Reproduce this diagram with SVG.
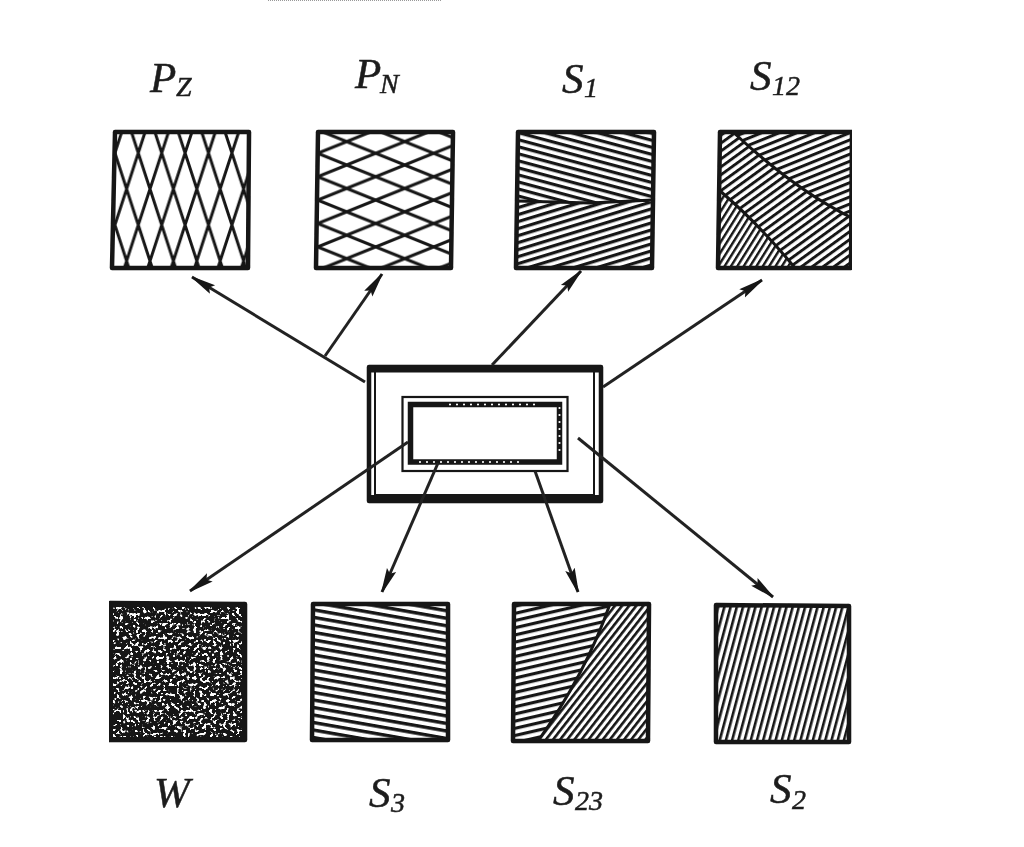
<svg xmlns="http://www.w3.org/2000/svg" width="1024" height="847" viewBox="0 0 1024 847">
<style>
.box{stroke:#161616;stroke-width:4.500;stroke-linejoin:round}
.frame{fill:none;stroke:#161616;stroke-width:4.500;stroke-linejoin:round}
.div{fill:none;stroke:#161616;stroke-width:3}
.lab{font-family:"Liberation Serif","Times New Roman",serif;font-style:italic;font-size:43px;fill:#1c1c1c;stroke:#1c1c1c;stroke-width:.5}
.sub{font-size:28px}
.arrow{fill:none;stroke:#222;stroke-width:3;marker-end:url(#head)}
</style>
<defs>
<marker id="head" markerUnits="userSpaceOnUse" markerWidth="28" markerHeight="16" refX="24" refY="8" orient="auto"><path d="M0,3 L20,6.600 L24,7.400 L24,8.600 L20,9.400 L0,13 L4,8 Z" fill="#161616"/></marker>
<filter id="soft" x="0" y="0" width="1" height="1"><feGaussianBlur stdDeviation="0.5"/></filter>
<filter id="speck" x="0" y="0" width="1" height="1" color-interpolation-filters="sRGB"><feTurbulence type="fractalNoise" baseFrequency="0.3" numOctaves="2" seed="11"/><feColorMatrix values="0 0 0 0 1 0 0 0 0 1 0 0 0 0 1 1 0 0 0 0"/><feComponentTransfer><feFuncA type="linear" slope="12" intercept="-6.700"/></feComponentTransfer></filter>
<pattern id="pz" patternUnits="userSpaceOnUse" x="138.3" y="153" width="23.4" height="72"><rect width="23.4" height="72" fill="#fff"/><path d="M-11.7,-36L35.1,108M35.1,-36L-11.7,108M-11.7,36L11.7,108M11.7,-36L35.1,36M11.7,-36L-11.7,36M35.1,36L11.7,108" fill="none" stroke="#161616" stroke-width="3"/></pattern>
<pattern id="pn" patternUnits="userSpaceOnUse" x="346.7" y="165" width="58" height="23.4"><rect width="58" height="23.4" fill="#fff"/><path d="M-29,-11.7L87,35.1M87,-11.7L-29,35.1M-29,11.7L29,35.1M29,-11.7L87,11.7M29,-11.7L-29,11.7M87,11.7L29,35.1" fill="none" stroke="#161616" stroke-width="3"/></pattern>
<pattern id="s1a" patternUnits="userSpaceOnUse" width="20" height="6.8" patternTransform="translate(518 138) rotate(15)"><rect width="20" height="6.8" fill="#fff"/><rect width="20" height="3.2" fill="#161616"/></pattern>
<pattern id="s1b" patternUnits="userSpaceOnUse" width="20" height="6.7" patternTransform="translate(518 206) rotate(-17)"><rect width="20" height="6.7" fill="#fff"/><rect width="20" height="3.2" fill="#161616"/></pattern>
<pattern id="s12a" patternUnits="userSpaceOnUse" width="20" height="6.6" patternTransform="translate(740 140) rotate(-22)"><rect width="20" height="6.6" fill="#fff"/><rect width="20" height="3" fill="#161616"/></pattern>
<pattern id="s12b" patternUnits="userSpaceOnUse" width="20" height="6.4" patternTransform="translate(720 150) rotate(-36)"><rect width="20" height="6.4" fill="#fff"/><rect width="20" height="2.9" fill="#161616"/></pattern>
<pattern id="s12c" patternUnits="userSpaceOnUse" width="20" height="5.4" patternTransform="translate(720 200) rotate(-58)"><rect width="20" height="5.4" fill="#fff"/><rect width="20" height="2.4" fill="#161616"/></pattern>
<pattern id="s3" patternUnits="userSpaceOnUse" width="20" height="7.4" patternTransform="translate(313 608) rotate(10)"><rect width="20" height="7.4" fill="#fff"/><rect width="20" height="3.4" fill="#161616"/></pattern>
<pattern id="s23a" patternUnits="userSpaceOnUse" width="20" height="7" patternTransform="translate(514 612) rotate(-13)"><rect width="20" height="7" fill="#fff"/><rect width="20" height="3.2" fill="#161616"/></pattern>
<pattern id="s23b" patternUnits="userSpaceOnUse" width="20" height="5.6" patternTransform="translate(610 610) rotate(-52)"><rect width="20" height="5.6" fill="#fff"/><rect width="20" height="2.6" fill="#161616"/></pattern>
<pattern id="s2" patternUnits="userSpaceOnUse" width="20" height="6" patternTransform="translate(716 610) rotate(-75)"><rect width="20" height="6" fill="#fff"/><rect width="20" height="2.600" fill="#161616"/></pattern>
</defs>
<rect width="1024" height="847" fill="#fff"/>
<line x1="268" y1="0.5" x2="442" y2="0.5" stroke="#999" stroke-width="1" stroke-dasharray="1 1"/>
<g filter="url(#soft)">
<g id="center">
<rect x="369" y="367" width="232" height="134" class="frame"/>
<path d="M369,369H601" fill="none" stroke="#161616" stroke-width="7"/>
<rect x="375" y="371" width="219" height="124" fill="none" stroke="#161616" stroke-width="2"/>
<path d="M369,497H601" fill="none" stroke="#161616" stroke-width="4"/>
<rect x="402.500" y="397" width="165" height="74" fill="#fff" stroke="#161616" stroke-width="2.2"/>
<rect x="410.500" y="404.500" width="149" height="57.500" fill="#fff" stroke="#161616" stroke-width="5.500"/>
<path d="M450,404.500H540M559.500,408V452M420,462H520" fill="none" stroke="#fff" stroke-width="2.200" stroke-linecap="round" stroke-dasharray="0 7"/>
</g>
<g id="connectors">
<path class="arrow" d="M365,382L192,277"/>
<path class="arrow" d="M325,356L382,274"/>
<path class="arrow" d="M492,365L581,271"/>
<path class="arrow" d="M603,387L762,280"/>
<path class="arrow" d="M408,442L190,591"/>
<path class="arrow" d="M438,463L382,592"/>
<path class="arrow" d="M535,471L578,592"/>
<path class="arrow" d="M578,438L773,597"/>
</g>
<g id="Pz"><path class="box" fill="url(#pz)" d="M115,132L249,132L248,268L112,268Z"/><text class="lab" x="150" y="92">P<tspan class="sub" x="176" y="96">Z</tspan></text></g>
<g id="Pn"><path class="box" fill="url(#pn)" d="M318,132L453,132L451,268L316,268Z"/><text class="lab" x="355" y="88">P<tspan class="sub" x="380" y="93">N</tspan></text></g>
<g id="S1"><path fill="url(#s1a)" d="M518,132L654,132L653,202L517,202Z"/><path fill="url(#s1b)" d="M517,202L653,202L652,268L516,268Z"/><path d="M518,201L590,203L653,200" class="div" stroke-width="4"/><path class="frame" d="M518,132L654,132L652,268L516,268Z"/><text class="lab" x="562" y="93">S<tspan class="sub" x="584" y="97">1</tspan></text></g>
<g id="S12"><path fill="url(#s12a)" d="M733,132L852,132L852,218Q795,190 733,132Z"/><path fill="url(#s12b)" d="M720,132L733,132Q795,190 852,218L851,268L795,268Q760,225 719,190Z"/><path fill="url(#s12c)" d="M719,190Q760,225 795,268L718,268Z"/><path class="div" d="M733,132Q795,190 852,218M719,190Q760,225 795,268"/><path class="frame" d="M720,132L852,132L851,268L718,268Z"/><text class="lab" x="750" y="90">S<tspan class="sub" x="772" y="95">12</tspan></text></g>
<g id="W"><path d="M110,603L245,604L245,740L109,740Z" fill="#161616"/><rect x="113" y="607" width="129" height="130" filter="url(#speck)"/><path class="frame" d="M110,603L245,604L245,740L109,740Z"/><text class="lab" x="154" y="807">W</text></g>
<g id="S3"><path class="box" fill="url(#s3)" d="M313,604L448,604L448,740L312,740Z"/><text class="lab" x="369" y="807">S<tspan class="sub" x="391" y="812">3</tspan></text></g>
<g id="S23"><path fill="url(#s23a)" d="M514,604L610,604Q585,675 538,741L513,741Z"/><path fill="url(#s23b)" d="M610,604L649,604L648,741L538,741Q585,675 610,604Z"/><path class="div" d="M610,604Q585,675 538,741"/><path class="frame" d="M514,604L649,604L648,741L513,741Z"/><text class="lab" x="553" y="805">S<tspan class="sub" x="575" y="810">23</tspan></text></g>
<g id="S2"><path class="box" fill="url(#s2)" d="M716,605L849,606L849,742L716,742Z"/><text class="lab" x="770" y="803">S<tspan class="sub" x="792" y="809">2</tspan></text></g>
</g>
</svg>
